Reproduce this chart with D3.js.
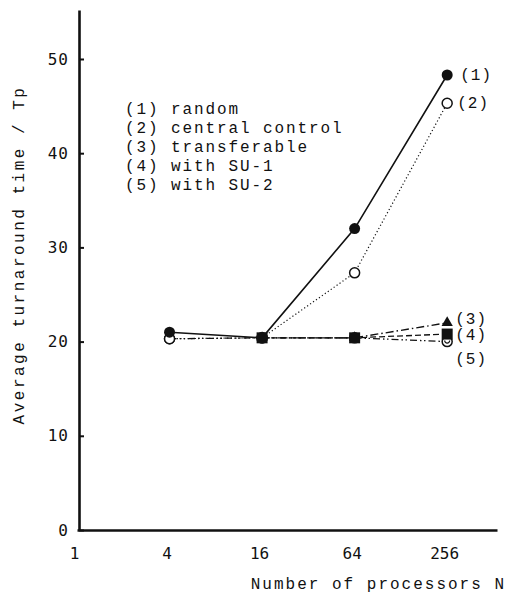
<!DOCTYPE html>
<html><head><meta charset="utf-8">
<script src="https://cdn.jsdelivr.net/npm/d3@7"></script>
<style>
body{margin:0;background:#fff;}
svg text{font-family:"Liberation Mono","DejaVu Sans Mono",monospace;fill:#111;}
svg .num text{font-family:"DejaVu Sans Mono",monospace;font-feature-settings:"zero" 1;font-variant-numeric:slashed-zero;}
</style></head>
<body><svg id="c" width="509" height="595"></svg>
<script>
const processors = [4, 16, 64, 256];
const xTickValues = [1, 4, 16, 64, 256];
const yTickValues = [0, 10, 20, 30, 40, 50];
const seriesNames = ["random", "central control", "transferable", "with SU-1", "with SU-2"];
const seriesRandom = [21.0, 20.4, 32.0, 48.3];
const seriesCentral = [20.3, 20.4, 27.3, 45.3];
const seriesTransferable = [null, 20.4, 20.4, 22.0];
const seriesSU1 = [null, 20.4, 20.4, 20.8];
const seriesSU2 = [20.3, 20.4, 20.4, 20.0];

const svg = d3.select("#c");
const x = d3.scaleLog().base(2).domain([1, 540]).range([77, 497]);
const y = d3.scaleLinear().domain([0, 55.2]).range([530, 10]);

const series = [
  {id:1, vals:seriesRandom, dash:null, w:1.6, marker:"fcircle"},
  {id:2, vals:seriesCentral, dash:"1.2,2.4", w:1.2, marker:"ocircle"},
  {id:3, vals:seriesTransferable, dash:"8,3,1.5,3", w:1.3, marker:"triangle"},
  {id:4, vals:seriesSU1, dash:"6,3", w:1.3, marker:"square"},
  {id:5, vals:seriesSU2, dash:"7,3,1.5,2.5,1.5,3", w:1.3, marker:"dcircle"}
];

// axes
const yAxis = d3.axisLeft(y).tickValues(yTickValues).tickSizeInner(-5).tickSizeOuter(0).tickPadding(10)
  .tickFormat(d3.format("d"));
const gy = svg.append("g").attr("class","num").attr("transform","translate(79,0)").call(yAxis);
gy.select(".domain").attr("stroke","#111").attr("stroke-width",2.6);
gy.selectAll(".tick line").attr("stroke","#111").attr("stroke-width",2);
gy.selectAll(".tick text").attr("font-size",16).attr("letter-spacing",1);

const xAxis = d3.axisBottom(x).tickValues(xTickValues).tickSize(0).tickPadding(18).tickFormat(d3.format("d"));
const gx = svg.append("g").attr("class","num").attr("transform","translate(0,530)").call(xAxis);
gx.select(".domain").attr("stroke","#111").attr("stroke-width",2.6);
gx.selectAll(".tick text").attr("font-size",16).attr("dx",-3);

// axis titles
svg.append("text").attr("transform","translate(24,255) rotate(-90)").attr("text-anchor","middle")
  .attr("font-size",16).attr("letter-spacing",2.5).text("Average turnaround time / Tp");
svg.append("text").attr("x",506).attr("y",589).attr("text-anchor","end")
  .attr("font-size",16).attr("letter-spacing",2).text("Number of processors N");

// lines
const line = d3.line().defined(d => d.v != null).x(d => x(d.n)).y(d => y(d.v));
series.slice().reverse().forEach(s => {
  const pts = processors.map((n,i) => ({n, v:s.vals[i]}));
  svg.append("path").datum(pts).attr("d", line).attr("fill","none").attr("stroke","#111")
    .attr("stroke-width", s.w).attr("stroke-dasharray", s.dash);
});

// markers (order: triangles, open circles, filled circles, squares)
const order = [2, 4, 1, 0, 3];
order.forEach(k => {
  const s = series[k];
  processors.forEach((n,i) => {
    const v = s.vals[i]; if (v == null) return;
    const cx = x(n), cy = y(v);
    const g = svg.append("g").attr("transform",`translate(${cx},${cy})`);
    if (s.marker === "fcircle") g.append("circle").attr("r",5.5).attr("fill","#111");
    else if (s.marker === "ocircle") g.append("circle").attr("r",5).attr("fill","#fff").attr("stroke","#111").attr("stroke-width",1.5);
    else if (s.marker === "dcircle") { g.append("circle").attr("r",5).attr("fill","#fff").attr("stroke","#111").attr("stroke-width",1.5);
      g.append("path").attr("d","M-2.5,-1 A2.5,2.5 0 0 0 2.5,-1").attr("fill","none").attr("stroke","#111").attr("stroke-width",1.2); }
    else if (s.marker === "square") g.append("rect").attr("x",-5.5).attr("y",-5.5).attr("width",11).attr("height",11).attr("fill","#111");
    else if (s.marker === "triangle") g.append("path").attr("d",d3.symbol(d3.symbolTriangle,55)()).attr("fill","#111");
  });
});

// end labels
const endLabels = [
  {t:"(1)", n:256, v:seriesRandom[3], dx:13, dy:5},
  {t:"(2)", n:256, v:seriesCentral[3], dx:10, dy:5},
  {t:"(3)", n:256, v:seriesTransferable[3], dx:8, dy:1},
  {t:"(4)", n:256, v:seriesSU1[3], dx:8, dy:6},
  {t:"(5)", n:256, v:seriesSU2[3], dx:8, dy:22}
];
endLabels.forEach(l => svg.append("text").attr("x", x(l.n)+l.dx).attr("y", y(l.v)+l.dy)
  .attr("font-size",16).attr("letter-spacing",1).text(l.t));

// legend
seriesNames.forEach((name,i) => {
  svg.append("text").attr("x",125).attr("y",114+i*19).attr("font-size",16).attr("letter-spacing",1.9)
    .attr("xml:space","preserve").style("white-space","pre").text(`(${i+1}) ${name}`);
});
</script></body></html>
